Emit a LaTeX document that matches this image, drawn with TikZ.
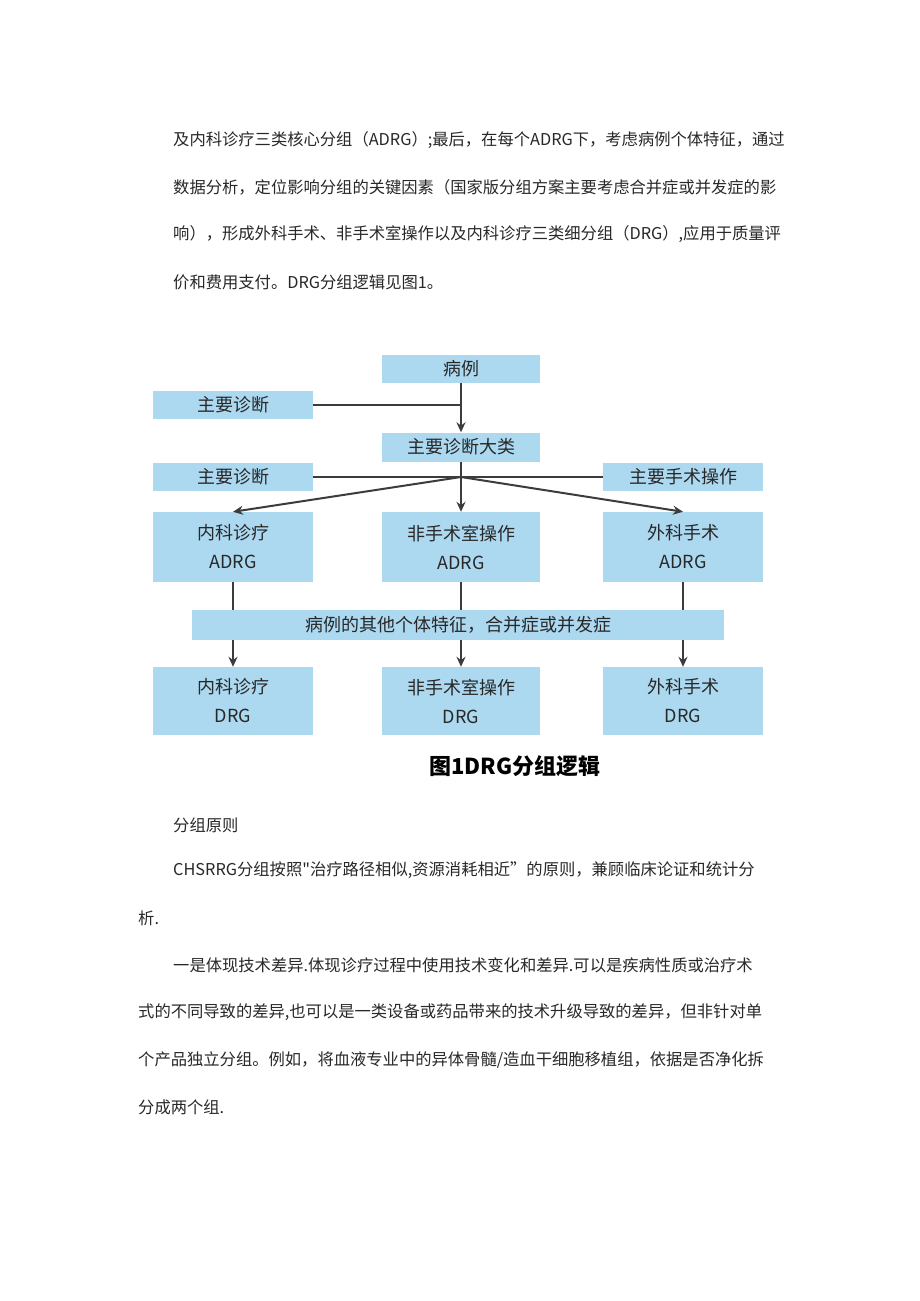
\documentclass[tikz,border=0pt]{standalone}
\usepackage{fontspec}
\setmainfont{Noto Sans CJK SC}
\usetikzlibrary{arrows.meta}
\definecolor{boxblue}{RGB}{172,216,240}
\definecolor{txt}{RGB}{40,40,40}
\definecolor{ln}{RGB}{60,60,60}
\tikzset{
 x=1pt,y=-1pt,
 bx/.style={fill=boxblue,draw=none,text=txt,font=\fontsize{18}{29}\selectfont,align=center,inner sep=0pt},
 para/.style={anchor=west,inner sep=0pt,text=txt,font=\fontsize{16.3}{19}\selectfont},
 con/.style={draw=ln,line width=2pt},
 arr/.style={con,-{Stealth[length=10pt,width=9pt]}}
}
\begin{document}
\begin{tikzpicture}
\useasboundingbox[fill=white] (0,0) rectangle (920,1301);
\node[para] (p1) at (173,140) {及内科诊疗三类核心分组（ADRG）;最后，在每个ADRG下，考虑病例个体特征，通过};
\node[para] (p2) at (173,187) {数据分析，定位影响分组的关键因素（国家版分组方案主要考虑合并症或并发症的影};
\node[para] (p3) at (173,234) {响），形成外科手术、非手术室操作以及内科诊疗三类细分组（DRG）,应用于质量评};
\node[para] (p4) at (173,282) {价和费用支付。DRG分组逻辑见图1。};
% boxes
\node[bx,minimum width=158,minimum height=28] (bl) at (461,369) {病例};
\node[bx,minimum width=160,minimum height=28] (zd1) at (233,405) {主要诊断};
\node[bx,minimum width=158,minimum height=29] (mdc) at (461,447) {主要诊断大类};
\node[bx,minimum width=160,minimum height=28] (zd2) at (233,477) {主要诊断};
\node[bx,minimum width=160,minimum height=28] (ss) at (683,477) {主要手术操作};
\node[bx,minimum width=160,minimum height=70] (a1) at (233,547) {内科诊疗\\ADRG};
\node[bx,minimum width=158,minimum height=70] (a2) at (461,547) {非手术室操作\\ADRG};
\node[bx,minimum width=160,minimum height=70] (a3) at (683,547) {外科手术\\ADRG};
\node[bx,minimum width=532,minimum height=30] (band) at (458,625) {病例的其他个体特征，合并症或并发症};
\node[bx,minimum width=160,minimum height=68] (d1) at (233,701) {内科诊疗\\DRG};
\node[bx,minimum width=158,minimum height=68] (d2) at (461,701) {非手术室操作\\DRG};
\node[bx,minimum width=160,minimum height=68] (d3) at (683,701) {外科手术\\DRG};
% connectors
\draw[arr] (bl.south) -- (mdc.north);
\coordinate (j1) at (bl.south |- zd1.east);
\draw[con] (zd1.east) -- (j1);
\coordinate (j2) at (mdc.south |- zd2.east);
\draw[con] (zd2.east) -- (ss.west);
\draw[con] (mdc.south) -- (j2);
\draw[arr] (j2) -- (a1.north);
\draw[arr] (j2) -- (a2.north);
\draw[arr] (j2) -- (a3.north);
\foreach \a/\d in {a1/d1,a2/d2,a3/d3}{
 \draw[con] (\a.south) -- (\a.south |- band.north);
 \draw[arr] (\a.south |- band.south) -- (\d.north);
}
\node[inner sep=0pt,text=black,font=\fontsize{22}{26}\selectfont\bfseries] (cap) at (515,766) {图1DRG分组逻辑};
\node[para] (q1) at (173,825) {分组原则};
\node[para] (q2) at (173,870) {CHSRRG分组按照\textquotedbl 治疗路径相似,资源消耗相近”的原则，兼顾临床论证和统计分};
\node[para] (q3) at (138,918) {析.};
\node[para] (q4) at (173,965) {一是体现技术差异.体现诊疗过程中使用技术变化和差异.可以是疾病性质或治疗术};
\node[para] (q5) at (138,1012) {式的不同导致的差异,也可以是一类设备或药品带来的技术升级导致的差异，但非针对单};
\node[para] (q6) at (138,1060) {个产品独立分组。例如，将血液专业中的异体骨髓/造血干细胞移植组，依据是否净化拆};
\node[para] (q7) at (138,1107) {分成两个组.};
\end{tikzpicture}
\end{document}
